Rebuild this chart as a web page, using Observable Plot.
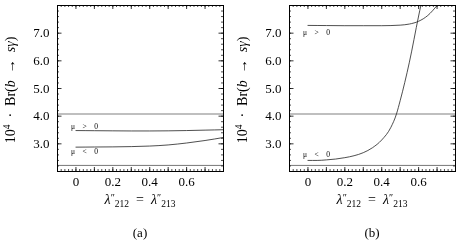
<!DOCTYPE html>
<html><head><meta charset="utf-8">
<script src="https://cdn.jsdelivr.net/npm/d3@7"></script>
<script src="https://cdn.jsdelivr.net/npm/@observablehq/plot@0.6"></script>
<style>
body{margin:0;background:#fff;}
#wrap{display:flex;width:460px;height:241px;overflow:hidden;filter:grayscale(1);}
svg{display:block;}
</style></head><body><div id="wrap"></div>
<script>
// ---- data ----
const lamA = [0, 0.1, 0.2, 0.3, 0.4, 0.5, 0.6, 0.7, 0.8];
const aPos = [3.48, 3.475, 3.47, 3.465, 3.465, 3.47, 3.48, 3.495, 3.51];
const aNeg = [2.88, 2.885, 2.89, 2.90, 2.92, 2.96, 3.03, 3.12, 3.23];

const lamBPos = [0, 0.1, 0.2, 0.3, 0.4, 0.45, 0.5, 0.55, 0.6, 0.65, 0.7];
const bPos = [7.28, 7.275, 7.27, 7.27, 7.27, 7.275, 7.29, 7.33, 7.43, 7.64, 8.0];
const lamBNeg = [0, 0.05, 0.1, 0.15, 0.2, 0.25, 0.3, 0.35, 0.4, 0.45, 0.48, 0.5, 0.55, 0.6, 0.612];
const bNeg = [2.40, 2.40, 2.42, 2.45, 2.50, 2.57, 2.68, 2.86, 3.14, 3.6, 4.08, 4.56, 5.95, 7.62, 8.0];

const upperBound = [4.08];
const lowerBound = [2.22];
const yTickLabels = [3, 4, 5, 6, 7];
const xTickLabels = [0, 0.2, 0.4, 0.6];
const seriesLabels = ["μ\u2003>\u20030", "μ\u2003<\u20030"];
const panelLabels = ["(a)", "(b)"];

const xDomain = [-0.1, 0.8];
const yDomain = [2, 8];

const toRows = (xs, ys) => xs.map((x, i) => ({x, y: ys[i]}));

const panels = [
  {pos: toRows(lamA, aPos), neg: toRows(lamA, aNeg), ml: 57, mr: 7,
   posLab: {dx: -5, dy: -4}, negLab: {dx: -5, dy: 4.5}, tag: panelLabels[0]},
  {pos: toRows(lamBPos, bPos), neg: toRows(lamBNeg, bNeg), ml: 59, mr: 5,
   posLab: {dx: -5, dy: 7.5}, negLab: {dx: -5, dy: -5.5}, tag: panelLabels[1]}
];

const W = 230, H = 241, MT = 5, MB = 70;
const FH = H - MT - MB;

const font = "Liberation Serif";

function makePanel(p) {
  const FW = W - p.ml - p.mr;
  const xMinor = d3.range(-0.1, 0.8001, 0.02);
  const xMajor = d3.range(-0.1, 0.8001, 0.1);
  const yMinor = d3.range(2, 8.0001, 0.2);
  const yMajor = d3.range(2, 8.0001, 1);
  const svg = Plot.plot({
    width: W, height: H,
    marginTop: MT, marginBottom: MB, marginLeft: p.ml, marginRight: p.mr,
    style: {fontFamily: font, fontSize: "13px", color: "black", background: "white"},
    x: {domain: xDomain},
    y: {domain: yDomain},
    marks: [
      Plot.ruleY(upperBound, {stroke: "#aaa", strokeWidth: 1.6}),
      Plot.ruleY(lowerBound, {stroke: "#777", strokeWidth: 1}),
      Plot.line(p.pos, {x: "x", y: "y", stroke: "#222", strokeWidth: 0.8, curve: "monotone-x", clip: true}),
      Plot.line(p.neg, {x: "x", y: "y", stroke: "#222", strokeWidth: 0.8, curve: "monotone-x", clip: true}),
      Plot.text([p.pos[0]], {x: "x", y: "y", text: () => seriesLabels[0], textAnchor: "start",
        dx: p.posLab.dx, dy: p.posLab.dy, fontSize: 7.5, fill: "#000"}),
      Plot.text([p.neg[0]], {x: "x", y: "y", text: () => seriesLabels[1], textAnchor: "start",
        dx: p.negLab.dx, dy: p.negLab.dy, fontSize: 7.5, fill: "#000"}),
      // inward ticks on all four sides
      Plot.tickX(xMinor, {x: d => d, insetTop: FH - 2, stroke: "black", strokeWidth: 0.7}),
      Plot.tickX(xMinor, {x: d => d, insetBottom: FH - 2, stroke: "black", strokeWidth: 0.7}),
      Plot.tickX(xMajor, {x: d => d, insetTop: FH - 4, stroke: "black", strokeWidth: 0.8}),
      Plot.tickX(xMajor, {x: d => d, insetBottom: FH - 4, stroke: "black", strokeWidth: 0.8}),
      Plot.tickY(yMinor, {y: d => d, insetRight: FW - 2, stroke: "black", strokeWidth: 0.7}),
      Plot.tickY(yMinor, {y: d => d, insetLeft: FW - 2, stroke: "black", strokeWidth: 0.7}),
      Plot.tickY(yMajor, {y: d => d, insetRight: FW - 4.5, stroke: "black", strokeWidth: 0.8}),
      Plot.tickY(yMajor, {y: d => d, insetLeft: FW - 4.5, stroke: "black", strokeWidth: 0.8}),
      Plot.frame({stroke: "black", strokeWidth: 1}),
      Plot.axisY({ticks: yTickLabels, tickSize: 0, tickPadding: 8, tickFormat: d3.format(".1f"), label: null,
        fontSize: 13, fill: "black"}),
      Plot.axisX({ticks: xTickLabels, tickSize: 0, tickPadding: 5, tickFormat: d => d === 0 ? "0" : d.toFixed(1), label: null,
        fontSize: 13, fill: "black"})
    ]
  });
  const s = d3.select(svg);
  const cx = p.ml + FW / 2;
  // y-axis title
  const yt = s.append("text")
    .attr("transform", `translate(${p.ml - 45},${MT + FH / 2 + 2}) rotate(-90)`)
    .attr("text-anchor", "middle").attr("dominant-baseline", "middle")
    .attr("font-size", 14).attr("fill", "black");
  yt.append("tspan").text("10");
  yt.append("tspan").attr("font-size", 9.5).attr("baseline-shift", "45%").text("4");
  yt.append("tspan").text("\u2002·\u2002Br(");
  yt.append("tspan").attr("font-style", "italic").text("b");
  yt.append("tspan").text("\u2002→\u2002");
  yt.append("tspan").attr("font-style", "italic").text("sγ");
  yt.append("tspan").text(")");
  // x-axis title
  const xt = s.append("text")
    .attr("x", cx).attr("y", 204).attr("text-anchor", "middle")
    .attr("font-size", 14).attr("fill", "black");
  xt.append("tspan").attr("font-style", "italic").text("λ");
  xt.append("tspan").attr("font-size", 10).attr("baseline-shift", "30%").text("″");
  xt.append("tspan").attr("font-size", 9.5).attr("baseline-shift", "-30%").text("212");
  xt.append("tspan").text("\u2002=\u2002");
  xt.append("tspan").attr("font-style", "italic").text("λ");
  xt.append("tspan").attr("font-size", 10).attr("baseline-shift", "30%").text("″");
  xt.append("tspan").attr("font-size", 9.5).attr("baseline-shift", "-30%").text("213");
  // panel tag
  s.append("text").attr("x", cx).attr("y", 237).attr("text-anchor", "middle")
    .attr("font-size", 13).attr("fill", "black").text(p.tag);
  // make sure every text uses the serif face
  s.selectAll("text").attr("font-family", font).style("font-family", font);
  return svg;
}

const wrap = document.getElementById("wrap");
panels.forEach(p => wrap.appendChild(makePanel(p)));
</script>
</body></html>
